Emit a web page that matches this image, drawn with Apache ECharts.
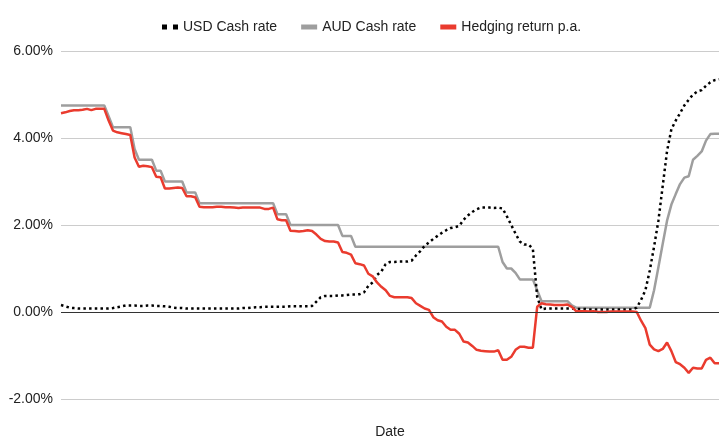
<!DOCTYPE html>
<html lang="en">
<head>
<meta charset="UTF-8">
<title>Hedging return</title>
<script src="https://cdn.jsdelivr.net/npm/echarts@6/dist/echarts.min.js"></script>
<style>
  html, body { margin: 0; padding: 0; background: #fff; }
  #chart { width: 720px; height: 440px; }
</style>
</head>
<body>
<div id="chart"></div>
<script>
// monthly, Jan 2011 .. Sep 2023
var months = [];
for (var y = 2011; y <= 2023; y++) {
    for (var m = 1; m <= 12; m++) {
        if (y === 2023 && m > 9) break;
        months.push(y + '-' + (m < 10 ? '0' + m : m));
    }
}

var usdRate = [
    0.16, 0.13, 0.1, 0.09, 0.08, 0.08, 0.08, 0.08, 0.08, 0.08,
    0.08, 0.08, 0.09, 0.11, 0.13, 0.15, 0.15, 0.15, 0.14, 0.14,
    0.15, 0.15, 0.14, 0.14, 0.13, 0.12, 0.1, 0.09, 0.09, 0.08,
    0.08, 0.08, 0.08, 0.08, 0.08, 0.08, 0.08, 0.08, 0.08, 0.08,
    0.08, 0.08, 0.09, 0.09, 0.1, 0.11, 0.11, 0.12, 0.12, 0.12,
    0.12, 0.12, 0.12, 0.13, 0.13, 0.13, 0.13, 0.13, 0.14, 0.24,
    0.34, 0.37, 0.37, 0.37, 0.38, 0.38, 0.39, 0.4, 0.4, 0.41,
    0.45, 0.6, 0.68, 0.85, 0.93, 1.1, 1.15, 1.15, 1.16, 1.16,
    1.16, 1.18, 1.3, 1.4, 1.52, 1.6, 1.68, 1.75, 1.82, 1.88,
    1.93, 1.95, 1.98, 2.12, 2.22, 2.3, 2.36, 2.4, 2.4, 2.4,
    2.39, 2.4, 2.38, 2.2, 2.0, 1.8, 1.62, 1.55, 1.55, 1.45,
    0.35, 0.06, 0.08, 0.08, 0.08, 0.08, 0.08, 0.08, 0.08, 0.07,
    0.07, 0.07, 0.06, 0.06, 0.06, 0.06, 0.06, 0.06, 0.06, 0.06,
    0.06, 0.06, 0.06, 0.1, 0.28, 0.5, 0.95, 1.5, 2.1, 2.9,
    3.7, 4.2, 4.4, 4.57, 4.75, 4.88, 5.0, 5.07, 5.1, 5.2,
    5.28, 5.33, 5.35
];

var audRate = [
    4.75, 4.75, 4.75, 4.75, 4.75, 4.75, 4.75, 4.75, 4.75, 4.75,
    4.75, 4.5, 4.25, 4.25, 4.25, 4.25, 4.25, 3.75, 3.5, 3.5,
    3.5, 3.5, 3.25, 3.25, 3.0, 3.0, 3.0, 3.0, 3.0, 2.75,
    2.75, 2.75, 2.5, 2.5, 2.5, 2.5, 2.5, 2.5, 2.5, 2.5,
    2.5, 2.5, 2.5, 2.5, 2.5, 2.5, 2.5, 2.5, 2.5, 2.5,
    2.25, 2.25, 2.25, 2.0, 2.0, 2.0, 2.0, 2.0, 2.0, 2.0,
    2.0, 2.0, 2.0, 2.0, 2.0, 1.75, 1.75, 1.75, 1.5, 1.5,
    1.5, 1.5, 1.5, 1.5, 1.5, 1.5, 1.5, 1.5, 1.5, 1.5,
    1.5, 1.5, 1.5, 1.5, 1.5, 1.5, 1.5, 1.5, 1.5, 1.5,
    1.5, 1.5, 1.5, 1.5, 1.5, 1.5, 1.5, 1.5, 1.5, 1.5,
    1.5, 1.5, 1.15, 1.0, 1.0, 0.9, 0.75, 0.75, 0.75, 0.75,
    0.5, 0.25, 0.25, 0.25, 0.25, 0.25, 0.25, 0.25, 0.15, 0.1,
    0.1, 0.1, 0.1, 0.1, 0.1, 0.1, 0.1, 0.1, 0.1, 0.1,
    0.1, 0.1, 0.1, 0.1, 0.1, 0.1, 0.1, 0.5, 1.03, 1.57,
    2.1, 2.47, 2.71, 2.94, 3.09, 3.12, 3.5, 3.59, 3.69, 3.94,
    4.09, 4.1, 4.1
];

var hedgeReturn = [
    4.57, 4.59, 4.62, 4.64, 4.64, 4.65, 4.67, 4.64, 4.67, 4.67,
    4.67, 4.4, 4.17, 4.13, 4.11, 4.09, 4.07, 3.55, 3.34, 3.36,
    3.35, 3.33, 3.11, 3.1, 2.84, 2.84, 2.85, 2.86, 2.85, 2.66,
    2.66, 2.64, 2.42, 2.41, 2.41, 2.41, 2.42, 2.42, 2.41, 2.41,
    2.4, 2.39, 2.4, 2.4, 2.4, 2.4, 2.4, 2.37, 2.37, 2.4,
    2.13, 2.11, 2.11, 1.87, 1.86, 1.85, 1.86, 1.88, 1.86, 1.78,
    1.68, 1.63, 1.62, 1.62, 1.6, 1.38, 1.36, 1.32, 1.12, 1.1,
    1.07, 0.88, 0.82, 0.68, 0.58, 0.5, 0.37, 0.34, 0.34, 0.34,
    0.34, 0.32, 0.2, 0.14, 0.08, 0.05, -0.12, -0.19, -0.22, -0.34,
    -0.41, -0.41, -0.5, -0.68, -0.7, -0.78, -0.87, -0.89, -0.9, -0.91,
    -0.91, -0.88, -1.1, -1.1, -1.03, -0.87, -0.8, -0.8, -0.82, -0.82,
    0.12, 0.2, 0.18, 0.17, 0.16, 0.16, 0.16, 0.17, 0.12, 0.02,
    0.02, 0.02, 0.01, 0.02, 0.0, 0.0, 0.0, 0.01, 0.01, 0.01,
    0.01, 0.01, 0.01, 0.0, -0.2, -0.37, -0.75, -0.86, -0.9, -0.85,
    -0.7, -0.9, -1.15, -1.2, -1.28, -1.4, -1.28, -1.3, -1.3, -1.1,
    -1.05, -1.18, -1.18
];

var yTicks = [-2, 0, 2, 4, 6];

var font = "'Liberation Sans', Arial, sans-serif";
var myChart = echarts.init(document.getElementById('chart'), null, { renderer: 'canvas' });

var option = {
    animation: false,
    backgroundColor: '#fff',
    textStyle: { fontFamily: font },
    legend: {
        left: 157,
        top: 14,
        itemWidth: 16,
        itemHeight: 5,
        itemGap: 24,
        itemStyle: { borderWidth: 0 },
        textStyle: { fontFamily: font, fontSize: 14, color: '#222', lineHeight: 16 },
        data: [
            { name: 'USD Cash rate', icon: 'path://M0,0h5v5h-5z M11,0h5v5h-5z' },
            { name: 'AUD Cash rate', icon: 'rect' },
            { name: 'Hedging return p.a.', icon: 'rect' }
        ]
    },
    grid: { left: 61, right: 1, top: 51, bottom: 41, outerBoundsMode: 'none', containLabel: false },
    xAxis: {
        type: 'category',
        data: months,
        boundaryGap: false,
        name: 'Date',
        nameLocation: 'middle',
        nameGap: 26,
        nameTextStyle: { fontFamily: font, fontSize: 14, color: '#222' },
        axisLine: { show: false, onZero: false },
        axisTick: { show: false },
        axisLabel: { show: false },
        splitLine: { show: false }
    },
    yAxis: {
        type: 'value',
        min: yTicks[0],
        max: yTicks[yTicks.length - 1],
        interval: 2,
        axisLine: { show: false },
        axisTick: { show: false },
        axisLabel: {
            margin: 8,
            fontFamily: font,
            fontSize: 14,
            color: '#222',
            formatter: function (v) { return v.toFixed(2) + '%'; }
        },
        splitLine: { lineStyle: { color: '#cccccc', width: 1 } }
    },
    series: [
        {
            name: 'USD Cash rate',
            type: 'line',
            data: usdRate,
            symbol: 'none',
            color: '#000',
            lineStyle: { color: '#000', width: 2.5, type: [2.5, 3.2], cap: 'butt' },
            z: 3
        },
        {
            name: 'AUD Cash rate',
            type: 'line',
            data: audRate,
            symbol: 'none',
            color: '#9e9e9e',
            lineStyle: { color: '#9e9e9e', width: 2.5 },
            markLine: {
                silent: true,
                symbol: 'none',
                label: { show: false },
                lineStyle: { color: '#333', width: 1, type: 'solid' },
                data: [{ yAxis: 0 }]
            },
            z: 2
        },
        {
            name: 'Hedging return p.a.',
            type: 'line',
            data: hedgeReturn,
            symbol: 'none',
            color: '#ea3b2e',
            lineStyle: { color: '#ea3b2e', width: 2.5 },
            z: 4
        }
    ]
};

myChart.setOption(option);
</script>
</body>
</html>
